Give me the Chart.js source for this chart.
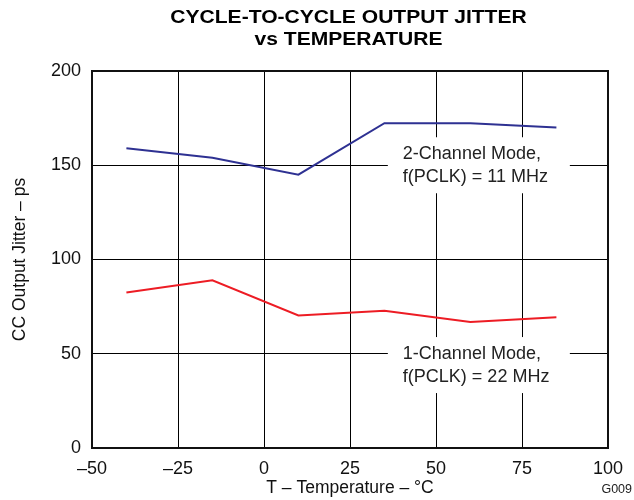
<!DOCTYPE html>
<html>
<head>
<meta charset="utf-8">
<script src="https://cdn.jsdelivr.net/npm/chart.js@4/dist/chart.umd.min.js"></script>
<style>
  html, body { margin:0; padding:0; background:#fff; }
  #wrap { width:634px; height:500px; position:relative; }
</style>
</head>
<body>
<div id="wrap"><canvas id="c" width="634" height="500"></canvas></div>
<script>
(() => {
  // temperatures (°C) of the measured points
  const temps = [-40, -15, 10, 35, 60, 85];
  // CC output jitter (ps)
  const jitter2ch = [159, 154, 145, 172.3, 172.3, 170];
  const jitter1ch = [82.5, 89, 70.3, 72.8, 66.8, 69.3];

  const xTicks = [-50, -25, 0, 25, 50, 75, 100];
  const yTicks = [0, 50, 100, 150, 200];

  const titleLines = ['CYCLE-TO-CYCLE OUTPUT JITTER', 'vs TEMPERATURE'];
  // label boxes, anchored on (left edge temp, centre jitter)
  const notes = [
    { x: 36, y: 150, lines: ['2-Channel Mode,', 'f(PCLK) = 11 MHz'] },
    { x: 36, y: 44, lines: ['1-Channel Mode,', 'f(PCLK) = 22 MHz'] }
  ];

  const FONT = '"Liberation Sans", Arial, Helvetica, sans-serif';
  const dash = v => String(v).replace('-', '\u2013');
  const pts = vals => temps.map((t, i) => ({ x: t, y: vals[i] }));

  const extras = {
    id: 'extras',
    beforeDatasetsDraw(chart){
      const { ctx, scales: { x, y } } = chart;
      ctx.save();
      ctx.font = '18px ' + FONT;
      ctx.textAlign = 'left';
      ctx.textBaseline = 'alphabetic';
      notes.forEach(n => {
        const bx = x.getPixelForValue(n.x);
        const cy = y.getPixelForValue(n.y);
        ctx.fillStyle = '#fff';
        ctx.fillRect(bx, cy - 28, 182, 56);
        ctx.fillStyle = '#222';
        ctx.fillText(n.lines[0], bx + 15, cy - 6.5);
        ctx.fillText(n.lines[1], bx + 15, cy + 16.8);
      });
      ctx.restore();
    },
    afterDraw(chart){
      const { ctx, chartArea: a } = chart;
      ctx.save();
      ctx.strokeStyle = '#111';
      ctx.lineWidth = 2;
      ctx.strokeRect(a.left, a.top, a.right - a.left, a.bottom - a.top);

      // title (wide bold face)
      ctx.fillStyle = '#000';
      ctx.font = 'bold 18px ' + FONT;
      ctx.textAlign = 'center';
      ctx.textBaseline = 'alphabetic';
      ctx.translate(348.5, 0);
      ctx.scale(1.17, 1);
      ctx.fillText(titleLines[0], 0, 23);
      ctx.fillText(titleLines[1], 0, 45);
      ctx.setTransform(1, 0, 0, 1, 0, 0);

      ctx.fillStyle = '#222';
      ctx.font = '12.5px ' + FONT;
      ctx.textAlign = 'right';
      ctx.textBaseline = 'middle';
      ctx.fillText('G009', 632, 490);
      ctx.restore();
    }
  };

  new Chart(document.getElementById('c'), {
    type: 'line',
    data: {
      datasets: [
        { label: '2-Channel', data: pts(jitter2ch), borderColor: '#2E3192', borderWidth: 2, pointRadius: 0, tension: 0 },
        { label: '1-Channel', data: pts(jitter1ch), borderColor: '#ED1C24', borderWidth: 2, pointRadius: 0, tension: 0 }
      ]
    },
    options: {
      responsive: false,
      animation: false,
      layout: { padding: { left: 0, right: 26, top: 71, bottom: 0 } },
      plugins: {
        legend: { display: false },
        tooltip: { enabled: false },
        title: { display: false }
      },
      scales: {
        x: {
          type: 'linear', min: -50, max: 100,
          afterBuildTicks: s => { s.ticks = xTicks.map(v => ({ value: v })); },
          afterFit: s => { s.height = 52; },
          grid: { color: '#000', lineWidth: 1, drawTicks: false },
          border: { display: false },
          ticks: { color: '#111', padding: 10, font: { family: FONT, size: 18 }, callback: v => dash(v), maxRotation: 0 },
          title: { display: true, text: 'T \u2013 Temperature \u2013 \u00B0C', color: '#111', font: { family: FONT, size: 17.5 }, padding: { top: 0, bottom: 1 } }
        },
        y: {
          min: 0, max: 200,
          afterBuildTicks: s => { s.ticks = yTicks.map(v => ({ value: v })); },
          afterFit: s => { s.width = 92; },
          grid: { color: '#000', lineWidth: 1, drawTicks: false },
          border: { display: false },
          ticks: { color: '#111', padding: 11, font: { family: FONT, size: 18 } },
          title: { display: true, text: 'CC Output Jitter \u2013 ps', color: '#111', font: { family: FONT, size: 17.5 }, padding: { top: 10, bottom: 0 } }
        }
      }
    },
    plugins: [extras]
  });
})();
</script>
</body>
</html>
